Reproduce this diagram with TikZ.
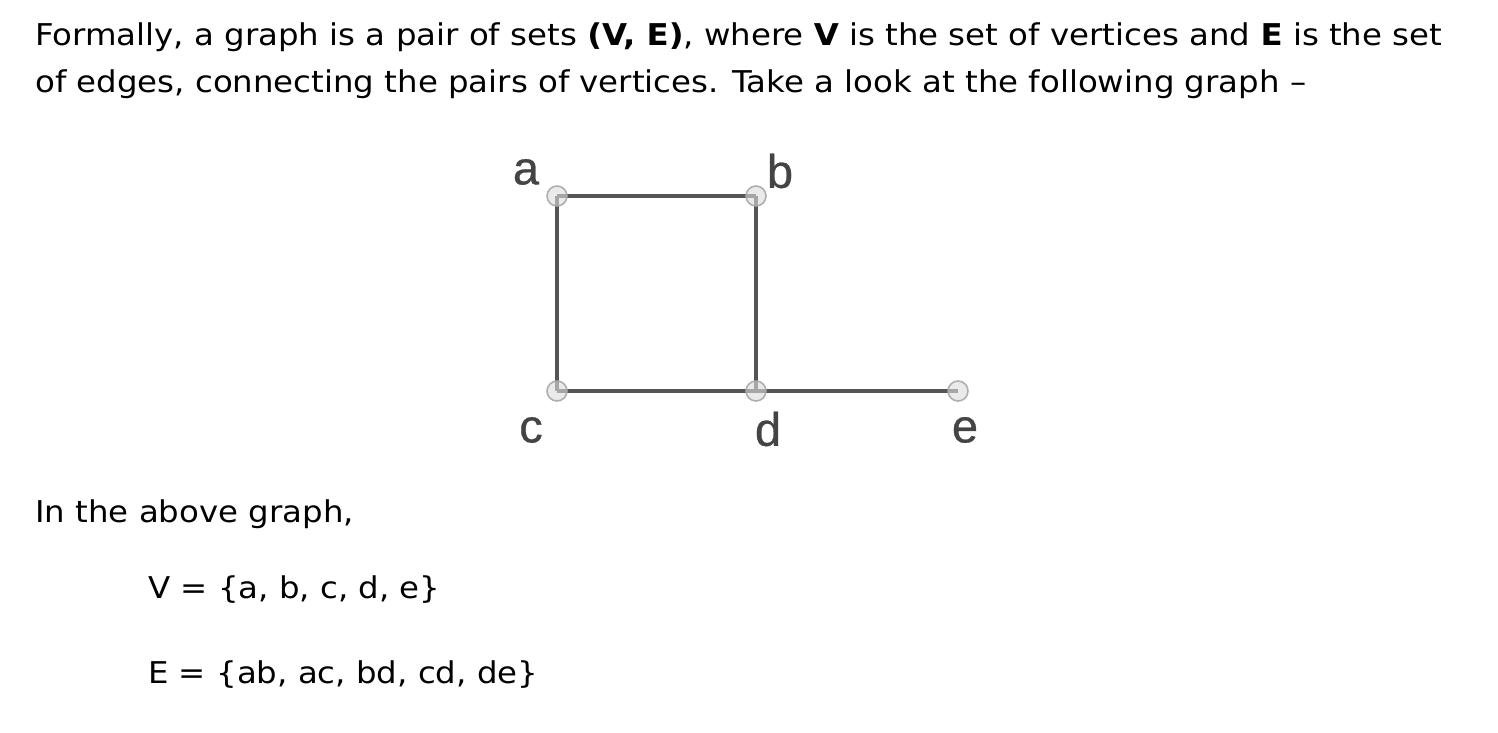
\documentclass[tikz,border=0pt]{standalone}
\usepackage{fontspec}
\setmainfont[FakeStretch=1.08]{DejaVu Sans}
\newfontfamily\lblfont[FakeBold=0.6]{Liberation Sans}
\usetikzlibrary{backgrounds}
\definecolor{edgecol}{HTML}{555555}
\definecolor{vfill}{HTML}{DCDCDC}
\definecolor{vdraw}{HTML}{A8A8A8}
\definecolor{lblcol}{HTML}{444444}
\begin{document}
\begin{tikzpicture}[x=1pt,y=-1pt,
  txt/.style={anchor=base west,inner sep=0pt,font=\fontsize{30}{36}\selectfont,text=black},
  vtx/.style={circle,minimum size=20pt,inner sep=0pt,fill=vfill,fill opacity=0.6,draw=vdraw,draw opacity=0.9,line width=1.6pt},
  edge/.style={draw=edgecol,line width=3.5pt},
  lbl/.style={inner sep=0pt,font=\lblfont\fontsize{47}{50}\selectfont,text=lblcol}]
\useasboundingbox (0,0) rectangle (1498,732);
\node[txt] (l1) at (35,45) {Formally, a graph is a pair of sets \textbf{(V, E)}, where \textbf{V} is the set of vertices and \textbf{E} is the set};
\node[txt] (l2) at (35,92) {of edges, connecting the pairs of vertices. Take a look at the following graph \textendash};
\node[txt] (l3) at (35,522) {In the above graph,};
\node[txt] (l4) at (148,598) {V = \{a, b, c, d, e\}};
\node[txt] (l5) at (148,683) {E = \{ab, ac, bd, cd, de\}};
\node[vtx] (a) at (557,196) {};
\node[vtx] (b) at (756,196) {};
\node[vtx] (c) at (557,391) {};
\node[vtx] (d) at (756,391) {};
\node[vtx] (e) at (958,391) {};
\begin{scope}[on background layer]
\draw[edge] (a.center) -- (b.center);
\draw[edge] (a.center) -- (c.center);
\draw[edge] (b.center) -- (d.center);
\draw[edge] (c.center) -- (d.center);
\draw[edge] (d.center) -- (e.center);
\end{scope}
\node[lbl] (la) at (526,172) {a};
\node[lbl] (lb) at (780,171) {b};
\node[lbl] (lc) at (531,430) {c};
\node[lbl] (ld) at (768,429) {d};
\node[lbl] (le) at (965,430) {e};
\end{tikzpicture}
\end{document}
